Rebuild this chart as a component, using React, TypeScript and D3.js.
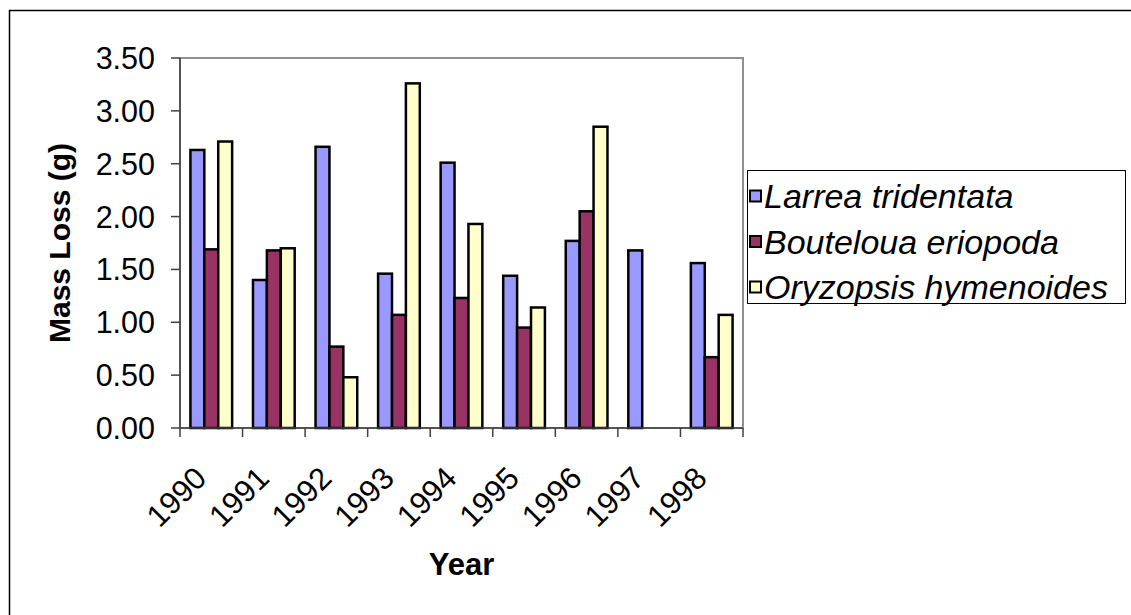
import React from "react";
import * as d3 from "d3";

const years = ["1990", "1991", "1992", "1993", "1994", "1995", "1996", "1997", "1998"];
const seriesNames = ["Larrea tridentata", "Bouteloua eriopoda", "Oryzopsis hymenoides"];
const larrea = [2.63, 1.4, 2.66, 1.46, 2.51, 1.44, 1.77, 1.68, 1.56];
const bouteloua = [1.69, 1.68, 0.77, 1.07, 1.23, 0.95, 2.05, null, 0.67];
const oryzopsis = [2.71, 1.7, 0.48, 3.26, 1.93, 1.14, 2.85, null, 1.07];
const yTicks = [0, 0.5, 1, 1.5, 2, 2.5, 3, 3.5];
const colors = ["#9999FF", "#993366", "#FFFFCC"];

const WIDTH = 1131;
const HEIGHT = 615;
const PLOT = { LEFT: 180, RIGHT: 743, TOP: 58, BOTTOM: 428 };
const FONT = "Arial, 'Liberation Sans', sans-serif";

const App = () => {
  const seriesValues = [larrea, bouteloua, oryzopsis];

  const xScale = d3.scaleBand().domain(years).range([PLOT.LEFT, PLOT.RIGHT]).padding(0);
  // excel-style 150% gap between groups
  const xInner = d3
    .scaleBand()
    .domain(seriesNames)
    .range([0, xScale.bandwidth()])
    .paddingInner(0)
    .paddingOuter(0.75);
  const yScale = d3.scaleLinear().domain([0, 3.5]).range([PLOT.BOTTOM, PLOT.TOP]);
  const fmt = d3.format(".2f");

  const boundaries = years.map((y) => xScale(y)).concat([PLOT.RIGHT]);

  return (
    <svg
      width={WIDTH}
      height={HEIGHT}
      style={{ position: "absolute", left: 0, top: 0, background: "#fff" }}
      fontFamily={FONT}
    >
      {/* chart frame */}
      <rect x={9.5} y={10.5} width={1300} height={800} fill="#fff" stroke="#000" strokeWidth={1.5} />

      {/* plot area */}
      <rect
        x={PLOT.LEFT}
        y={PLOT.TOP}
        width={PLOT.RIGHT - PLOT.LEFT}
        height={PLOT.BOTTOM - PLOT.TOP}
        fill="#fff"
        stroke="#909090"
        strokeWidth={2}
      />

      {/* bars */}
      {seriesValues.map((vals, si) =>
        vals.map((v, i) =>
          v == null ? null : (
            <rect
              key={`${si}-${i}`}
              x={(xScale(years[i]) as number) + (xInner(seriesNames[si]) as number)}
              y={yScale(v)}
              width={xInner.bandwidth()}
              height={yScale(0) - yScale(v)}
              fill={colors[si]}
              stroke="#000"
              strokeWidth={2.5}
            />
          )
        )
      )}

      {/* y axis */}
      <line x1={PLOT.LEFT} x2={PLOT.LEFT} y1={PLOT.TOP} y2={PLOT.BOTTOM} stroke="#404040" strokeWidth={1.5} />
      {yTicks.map((t) => (
        <g key={t}>
          <line x1={PLOT.LEFT - 9} x2={PLOT.LEFT} y1={yScale(t)} y2={yScale(t)} stroke="#404040" strokeWidth={1.5} />
          <text x={155} y={yScale(t)} textAnchor="end" dominantBaseline="central" fontSize={30.5}>
            {fmt(t)}
          </text>
        </g>
      ))}

      {/* x axis */}
      <line x1={PLOT.LEFT} x2={PLOT.RIGHT} y1={PLOT.BOTTOM} y2={PLOT.BOTTOM} stroke="#404040" strokeWidth={1.5} />
      {boundaries.map((b, i) => (
        <line key={i} x1={b} x2={b} y1={PLOT.BOTTOM} y2={PLOT.BOTTOM + 9} stroke="#404040" strokeWidth={1.5} />
      ))}
      {years.map((y) => {
        const cx = (xScale(y) as number) + xScale.bandwidth() / 2;
        return (
          <text
            key={y}
            transform={`translate(${cx - 3},${480}) rotate(-45)`}
            textAnchor="end"
            fontSize={31}
          >
            {y}
          </text>
        );
      })}

      {/* axis titles */}
      <text x={(PLOT.LEFT + PLOT.RIGHT) / 2} y={575} textAnchor="middle" fontSize={31} fontWeight="bold">
        Year
      </text>
      <text
        transform={`translate(70,${(PLOT.TOP + PLOT.BOTTOM) / 2}) rotate(-90)`}
        textAnchor="middle"
        fontSize={30}
        fontWeight="bold"
      >
        Mass Loss (g)
      </text>

      {/* legend */}
      <rect x={747.5} y={170.5} width={378} height={133} fill="#fff" stroke="#000" strokeWidth={1} />
      {seriesNames.map((name, i) => {
        const cy = 196 + i * 45.5;
        return (
          <g key={name}>
            <rect x={750} y={cy - 5.5} width={11} height={11} fill={colors[i]} stroke="#000" strokeWidth={2} />
            <text x={764} y={cy} dominantBaseline="central" fontSize={34} fontStyle="italic">
              {name}
            </text>
          </g>
        );
      })}
    </svg>
  );
};

export default App;
